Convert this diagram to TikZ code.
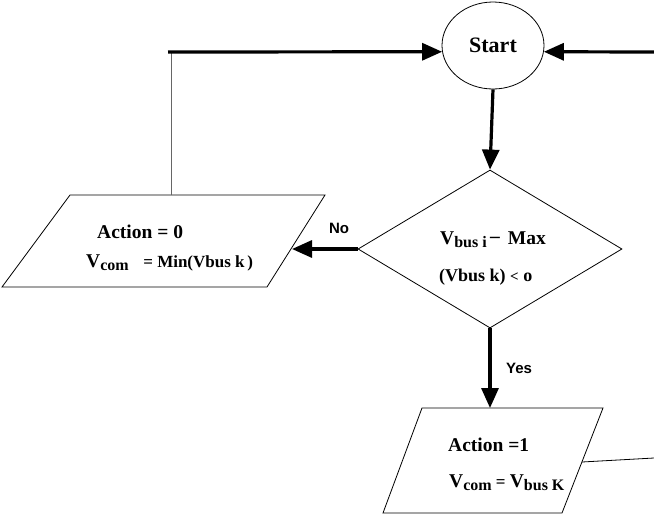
\documentclass[tikz,border=0pt]{standalone}
\usepackage{fontspec}
\setmainfont{Liberation Serif}
\newfontfamily\arialfont{Liberation Sans}
\usetikzlibrary{shapes.geometric,arrows.meta}
\newcommand\lowsub[1]{\raisebox{-0.35ex}{\fontsize{16}{18}\selectfont #1}}
\begin{document}
\begin{tikzpicture}[x=1pt,y=-1pt,
  flow/.style={line width=3.2pt,-{Triangle[length=20pt,width=17pt]}},
  thinline/.style={line width=0.8pt},
  greyline/.style={line width=1pt,black!60},
  big/.style={font=\fontsize{19.5}{22}\selectfont\bfseries,inner sep=0,anchor=west},
  small/.style={font=\fontsize{18}{20}\selectfont\bfseries,inner sep=0,anchor=west},
  yn/.style={font=\arialfont\fontsize{15}{18}\selectfont\bfseries,inner sep=0}]
\useasboundingbox (0,0) rectangle (654,517);
% Start
\node[ellipse,draw,thinline,minimum width=102pt,minimum height=87pt,inner sep=0,
  font=\fontsize{22}{25}\selectfont\bfseries] (start) at (493,45.5) {Start};
% decision
\node[diamond,draw,thinline,minimum width=264pt,minimum height=158pt,inner sep=0,aspect=1.67] (dec) at (490,249) {};
\node[big] (d1) at (440,240) {V\lowsub{bus i}\,\raisebox{0.3ex}{–}\, Max};
\node[small] (d2) at (439,277) {(Vbus k) {\fontsize{15}{17}\selectfont <} o};
% left parallelogram
\coordinate (ltl) at (70,195);
\coordinate (ltr) at (325,195);
\coordinate (lbr) at (267,287);
\coordinate (lbl) at (2,287);
\draw[thinline] (ltl) -- (ltr) -- (lbr) -- (lbl) -- cycle;
\node[big] (a0) at (97,232) {Action = 0};
\node[big] (v0) at (86,263) {V\lowsub{com}\enspace\ {\fontsize{17}{20}\selectfont = Min(Vbus k\,)}};
\coordinate (lin) at (292,249);
% bottom parallelogram
\coordinate (btl) at (422,408);
\coordinate (btr) at (603,408);
\coordinate (bbr) at (562,513);
\coordinate (bbl) at (383,513);
\draw[thinline] (btl) -- (btr) -- (bbr) -- (bbl) -- cycle;
\node[big] (a1) at (448,445) {Action =1};
\node[big] (v1) at (449,483) {V\lowsub{com}{\fontsize{17}{20}\selectfont\ = }V\lowsub{bus K}};
\coordinate (btop) at (490,408);
\coordinate (bout) at (582,462);
\coordinate (bend) at (654,458);
% loop
\coordinate (ltop) at (171,195);
\coordinate (corner) at (171,52);
\coordinate (cstart) at (168,52);
\coordinate (redge) at (654,52);
% connectors
\draw[greyline] (ltop) -- (corner);
\draw[flow] (cstart) -- (start.187);
\draw[flow] (redge) -- (start.-7);
\draw[flow] (start.south) -- (dec.north);
\draw[flow] (dec.west) -- (lin);
\draw[flow] (dec.south) -- (btop);
\draw[thinline] (bout) -- (bend);
% labels
\node[yn] (no) at (339,228) {No};
\node[yn] (yes) at (519,368) {Yes};
\end{tikzpicture}
\end{document}
